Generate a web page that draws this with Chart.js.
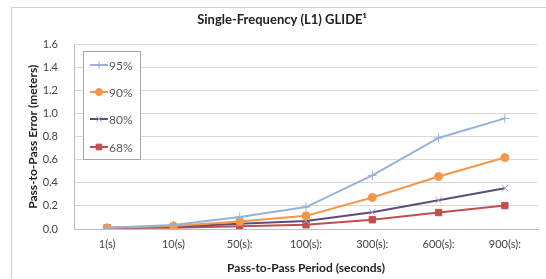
<!DOCTYPE html>
<html>
<head>
<meta charset="utf-8">
<script src="https://cdn.jsdelivr.net/npm/chart.js@4/dist/chart.umd.min.js"></script>
<style>
  body { margin: 0; background: #fff; }
  #wrap { width: 546px; height: 279px; }
</style>
</head>
<body>
<div id="wrap"><canvas id="myChart" width="546" height="279"></canvas></div>
<script>
let periods = ["1(s)", "10(s)", "50(s):", "100(s):", "300(s):", "600(s):", "900(s):"];
let p95 = [0.01, 0.035, 0.105, 0.19, 0.465, 0.79, 0.96];
let p90 = [0.01, 0.025, 0.066, 0.114, 0.274, 0.455, 0.62];
let p80 = [0.01, 0.02, 0.046, 0.07, 0.146, 0.25, 0.354];
let p68 = [0.01, 0.01, 0.023, 0.037, 0.08, 0.143, 0.203];
let seriesNames = ["95%", "90%", "80%", "68%"];
let lineColors = ["#95b3d7", "#f79646", "#604a7b", "#c0504d"];
let markerColors = ["#95b3d7", "#f79646", "#a89cc8", "#c0504d"];
let markers = ["cross", "circle", "crossRot", "rect"];
let allValues = [p95, p90, p80, p68];

let fontName = "Lato, 'Open Sans', sans-serif";

// frame around the whole chart
let framePlugin = {
    id: "frame",
    beforeDraw(chart) {
        let ctx = chart.ctx;
        ctx.save();
        ctx.fillStyle = "#fff";
        ctx.fillRect(0, 0, chart.width, chart.height);
        ctx.strokeStyle = "#d0d0d0";
        ctx.lineWidth = 1;
        ctx.strokeRect(11.5, 7.5, 600, 400);
        ctx.restore();
    }
};

// legend box drawn inside the plot
let boxLegend = {
    id: "boxLegend",
    afterDraw(chart) {
        let ctx = chart.ctx;
        ctx.save();
        ctx.fillStyle = "#fff";
        ctx.fillRect(83, 51, 57, 108);
        ctx.strokeStyle = "#a6a6a6";
        ctx.lineWidth = 1;
        ctx.strokeRect(83.5, 51.5, 57, 108);
        let rows = [65, 92, 119, 147];
        ctx.font = "12px " + fontName;
        ctx.textBaseline = "middle";
        chart.data.datasets.forEach((ds, i) => {
            let y = rows[i];
            ctx.strokeStyle = ds.borderColor;
            ctx.lineWidth = 2;
            ctx.beginPath();
            ctx.moveTo(90, y);
            ctx.lineTo(108, y);
            ctx.stroke();
            ctx.fillStyle = ds.pointBackgroundColor;
            ctx.strokeStyle = ds.pointBorderColor;
            ctx.lineWidth = 1;
            Chart.helpers.drawPoint(ctx, {pointStyle: ds.pointStyle, radius: ds.pointRadius - 0.5, borderWidth: 1, rotation: 0}, 99, y);
            ctx.fillStyle = "#595959";
            ctx.fillText(ds.label, 109, y + 1);
        });
        ctx.restore();
    }
};

let datasets = allValues.map((vals, i) => ({
    label: seriesNames[i],
    data: vals,
    borderColor: lineColors[i],
    backgroundColor: markerColors[i],
    pointBackgroundColor: markerColors[i],
    pointBorderColor: markerColors[i],
    pointStyle: markers[i],
    pointRadius: markers[i] == "circle" ? 4 : 4.5,
    pointBorderWidth: 1,
    borderWidth: 2,
    tension: 0,
    order: i
}));

new Chart("myChart", {
    type: "line",
    data: { labels: periods, datasets: datasets },
    plugins: [framePlugin, boxLegend],
    options: {
        responsive: false,
        animation: false,
        layout: { padding: { left: 26, right: 8, top: 12, bottom: 4 } },
        plugins: {
            legend: { display: false },
            tooltip: { enabled: false },
            title: {
                display: true,
                text: "Single-Frequency (L1) GLIDE\u00b9",
                color: "#222",
                font: { family: fontName, size: 13, weight: "bold" },
                padding: { top: 0, bottom: 17 }
            }
        },
        scales: {
            x: {
                offset: true,
                grid: { display: false, drawTicks: false },
                border: { color: "#bfbfbf" },
                ticks: { color: "#444", font: { family: fontName, size: 11 }, padding: 9, maxRotation: 0 },
                title: {
                    display: true,
                    text: "Pass-to-Pass Period (seconds)",
                    color: "#222",
                    font: { family: fontName, size: 12, weight: "bold" },
                    padding: { top: 7, bottom: 0 }
                },
                afterFit(s) { s.height = 46; }
            },
            y: {
                min: 0,
                max: 1.6,
                grid: { color: "#d9d9d9", drawTicks: false },
                border: { color: "#bfbfbf" },
                ticks: {
                    stepSize: 0.2,
                    color: "#444",
                    font: { family: fontName, size: 11 },
                    padding: 16,
                    callback: v => v.toFixed(1)
                },
                title: {
                    display: true,
                    text: "Pass-to-Pass Error (meters)",
                    color: "#222",
                    font: { family: fontName, size: 12, weight: "bold" },
                    padding: { top: 0, bottom: 4 }
                },
                afterFit(s) { s.width = 48; }
            }
        }
    }
});
</script>
</body>
</html>
